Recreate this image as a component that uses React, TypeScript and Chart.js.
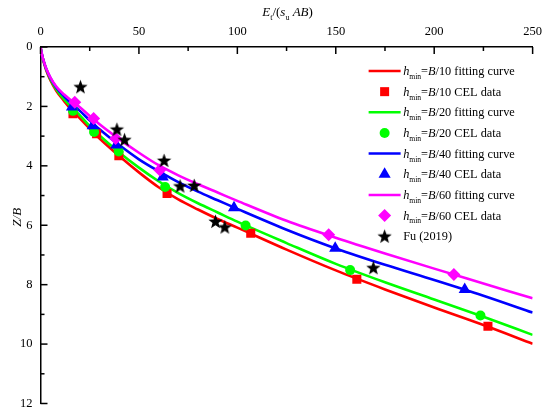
import React, { useEffect, useRef } from 'react';
import { Chart, registerables } from 'chart.js';

Chart.register(...registerables);

// ---------- data ----------
const X_MIN = 0;
const X_MAX = 250;
const X_MAJOR = 50;
const X_MINOR = 25;
const Y_MIN = 0;
const Y_MAX = 12;
const Y_MAJOR = 2;
const Y_MINOR = 1;

const CURVE_X = [0, 0.5, 1, 2, 3, 5, 8, 12, 16, 20, 25, 30, 40, 50, 60, 70, 80, 90, 100, 125, 150, 175, 200, 225, 250];
const CURVE_B10 = [0, 0.19, 0.35, 0.59, 0.8, 1.12, 1.47, 1.82, 2.13, 2.4, 2.75, 3.08, 3.67, 4.22, 4.72, 5.13, 5.47, 5.79, 6.08, 6.82, 7.52, 8.16, 8.77, 9.36, 9.99];
const CURVE_B20 = [0, 0.18, 0.34, 0.57, 0.77, 1.08, 1.42, 1.76, 2.04, 2.3, 2.66, 2.98, 3.55, 4.06, 4.52, 4.92, 5.26, 5.57, 5.88, 6.6, 7.3, 7.92, 8.5, 9.08, 9.69];
const CURVE_B40 = [0, 0.18, 0.33, 0.56, 0.75, 1.04, 1.36, 1.66, 1.92, 2.15, 2.47, 2.77, 3.3, 3.78, 4.18, 4.55, 4.87, 5.16, 5.45, 6.15, 6.78, 7.33, 7.84, 8.37, 8.94];
const CURVE_B60 = [0, 0.17, 0.33, 0.55, 0.74, 1.02, 1.33, 1.6, 1.82, 2.03, 2.32, 2.6, 3.1, 3.56, 3.98, 4.32, 4.62, 4.9, 5.18, 5.85, 6.42, 6.95, 7.46, 7.96, 8.46];

const CEL_B10_X = [16.5, 28.5, 39.8, 64.3, 106.8, 160.7, 227.3];
const CEL_B10_Y = [2.25, 2.92, 3.66, 4.93, 6.27, 7.82, 9.4];
const CEL_B20_X = [16.5, 27.2, 39.7, 63.3, 104.2, 157.3, 223.5];
const CEL_B20_Y = [2.15, 2.86, 3.52, 4.71, 6.01, 7.51, 9.04];
const CEL_B40_X = [16.0, 26.5, 38.5, 62.1, 98.3, 149.7, 215.5];
const CEL_B40_Y = [2.02, 2.65, 3.3, 4.38, 5.41, 6.77, 8.16];
const CEL_B60_X = [17.4, 27.0, 38.2, 60.6, 146.4, 210.0];
const CEL_B60_Y = [1.86, 2.41, 3.08, 4.14, 6.32, 7.66];

const FU_X = [20.3, 38.8, 42.7, 62.8, 70.9, 78.1, 88.9, 93.6, 169.1];
const FU_Y = [1.34, 2.77, 3.12, 3.82, 4.68, 4.66, 5.87, 6.06, 7.43];

const RED = '#ff0000';
const GREEN = '#00ff00';
const BLUE = '#0000ff';
const MAGENTA = '#ff00ff';
const BLACK = '#000000';

const FONT = '"Liberation Serif", "Times New Roman", serif';

type Part = { t: string; i?: boolean; sub?: boolean };

const LEGEND: { kind: 'line' | 'rect' | 'circle' | 'triangle' | 'rectRot' | 'star'; color: string; parts: Part[] }[] = [
  { kind: 'line', color: RED, parts: [{ t: 'h', i: true }, { t: 'min', sub: true }, { t: '=' }, { t: 'B', i: true }, { t: '/10 fitting curve' }] },
  { kind: 'rect', color: RED, parts: [{ t: 'h', i: true }, { t: 'min', sub: true }, { t: '=' }, { t: 'B', i: true }, { t: '/10 CEL data' }] },
  { kind: 'line', color: GREEN, parts: [{ t: 'h', i: true }, { t: 'min', sub: true }, { t: '=' }, { t: 'B', i: true }, { t: '/20 fitting curve' }] },
  { kind: 'circle', color: GREEN, parts: [{ t: 'h', i: true }, { t: 'min', sub: true }, { t: '=' }, { t: 'B', i: true }, { t: '/20 CEL data' }] },
  { kind: 'line', color: BLUE, parts: [{ t: 'h', i: true }, { t: 'min', sub: true }, { t: '=' }, { t: 'B', i: true }, { t: '/40 fitting curve' }] },
  { kind: 'triangle', color: BLUE, parts: [{ t: 'h', i: true }, { t: 'min', sub: true }, { t: '=' }, { t: 'B', i: true }, { t: '/40 CEL data' }] },
  { kind: 'line', color: MAGENTA, parts: [{ t: 'h', i: true }, { t: 'min', sub: true }, { t: '=' }, { t: 'B', i: true }, { t: '/60 fitting curve' }] },
  { kind: 'rectRot', color: MAGENTA, parts: [{ t: 'h', i: true }, { t: 'min', sub: true }, { t: '=' }, { t: 'B', i: true }, { t: '/60 CEL data' }] },
  { kind: 'star', color: BLACK, parts: [{ t: 'Fu (2019)' }] },
];

const X_TITLE: Part[] = [{ t: 'E', i: true }, { t: 't', sub: true }, { t: '/(' }, { t: 's', i: true }, { t: 'u', sub: true }, { t: ' ' }, { t: 'AB', i: true }, { t: ')' }];
const Y_TITLE: Part[] = [{ t: 'Z/B', i: true }];

const pts = (xs: number[], ys: number[]) => xs.map((x, k) => ({ x, y: ys[k] }));

function makeStar(r: number): HTMLCanvasElement {
  const c = document.createElement('canvas');
  const s = Math.ceil(r * 2 + 2);
  c.width = s;
  c.height = s;
  const g = c.getContext('2d')!;
  const cx = s / 2, cy = s / 2 + 0.6;
  const inner = r * 0.42;
  g.beginPath();
  for (let k = 0; k < 10; k++) {
    const rr = k % 2 === 0 ? r : inner;
    const a = -Math.PI / 2 + (k * Math.PI) / 5;
    const px = cx + rr * Math.cos(a);
    const py = cy + rr * Math.sin(a);
    if (k === 0) g.moveTo(px, py);
    else g.lineTo(px, py);
  }
  g.closePath();
  g.fillStyle = BLACK;
  g.fill();
  return c;
}

function richWidth(ctx: CanvasRenderingContext2D, parts: Part[], size: number) {
  let w = 0;
  for (const p of parts) {
    const fs = p.sub ? size * 0.62 : size;
    ctx.font = `${p.i ? 'italic ' : ''}${fs}px ${FONT}`;
    w += ctx.measureText(p.t).width;
  }
  return w;
}

function drawRich(ctx: CanvasRenderingContext2D, x: number, y: number, parts: Part[], size: number) {
  let cx = x;
  ctx.textBaseline = 'alphabetic';
  ctx.textAlign = 'left';
  for (const p of parts) {
    const fs = p.sub ? size * 0.62 : size;
    ctx.font = `${p.i ? 'italic ' : ''}${fs}px ${FONT}`;
    ctx.fillText(p.t, cx, y + (p.sub ? size * 0.32 : 0));
    cx += ctx.measureText(p.t).width;
  }
  return cx;
}

function drawMarker(ctx: CanvasRenderingContext2D, kind: string, color: string, x: number, y: number, star: HTMLCanvasElement) {
  ctx.save();
  ctx.fillStyle = color;
  ctx.strokeStyle = color;
  ctx.beginPath();
  if (kind === 'line') {
    ctx.lineWidth = 2.5;
    ctx.moveTo(x - 16, y);
    ctx.lineTo(x + 16, y);
    ctx.stroke();
  } else if (kind === 'rect') {
    ctx.rect(x - 4.5, y - 4.5, 9, 9);
    ctx.fill();
  } else if (kind === 'circle') {
    ctx.arc(x, y, 5, 0, Math.PI * 2);
    ctx.fill();
  } else if (kind === 'triangle') {
    const r = 7;
    ctx.moveTo(x, y - r);
    ctx.lineTo(x + r * 0.866, y + r * 0.5);
    ctx.lineTo(x - r * 0.866, y + r * 0.5);
    ctx.closePath();
    ctx.fill();
  } else if (kind === 'rectRot') {
    const r = 6.5;
    ctx.moveTo(x, y - r);
    ctx.lineTo(x + r, y);
    ctx.lineTo(x, y + r);
    ctx.lineTo(x - r, y);
    ctx.closePath();
    ctx.fill();
  } else if (kind === 'star') {
    ctx.drawImage(star, x - star.width / 2, y - star.height / 2);
  }
  ctx.restore();
}

export default function App() {
  const ref = useRef<HTMLCanvasElement | null>(null);

  useEffect(() => {
    if (!ref.current) return;
    const star = makeStar(7.5);

    const decor = {
      id: 'decor',
      afterDraw(chart: any) {
        const ctx: CanvasRenderingContext2D = chart.ctx;
        const xs = chart.scales.x;
        const ys = chart.scales.y;
        const ca = chart.chartArea;
        const x0 = xs.getPixelForValue(X_MIN);
        const y0 = ys.getPixelForValue(Y_MIN);
        ctx.save();
        ctx.strokeStyle = BLACK;
        ctx.lineWidth = 1.5;
        // inward tick marks
        for (let v = X_MIN; v <= X_MAX; v += X_MINOR) {
          const px = xs.getPixelForValue(v);
          const len = v % X_MAJOR === 0 ? 7 : 4;
          ctx.beginPath();
          ctx.moveTo(px, y0);
          ctx.lineTo(px, y0 + len);
          ctx.stroke();
        }
        for (let v = Y_MIN; v <= Y_MAX; v += Y_MINOR) {
          const py = ys.getPixelForValue(v);
          const len = v % Y_MAJOR === 0 ? 7 : 4;
          ctx.beginPath();
          ctx.moveTo(x0, py);
          ctx.lineTo(x0 + len, py);
          ctx.stroke();
        }
        ctx.fillStyle = BLACK;
        // x title
        const tsize = 13;
        const tw = richWidth(ctx, X_TITLE, tsize);
        drawRich(ctx, (ca.left + ca.right) / 2 - tw / 2 + 1, 16, X_TITLE, tsize);
        // y title
        ctx.save();
        ctx.translate(21, (ca.top + ca.bottom) / 2 - 8);
        ctx.rotate(-Math.PI / 2);
        const yw = richWidth(ctx, Y_TITLE, tsize);
        drawRich(ctx, -yw / 2, 0, Y_TITLE, tsize);
        ctx.restore();
        // legend
        const lsize = 12.3;
        const lx = ca.right - 148;
        let ly = ca.top + 24;
        for (const item of LEGEND) {
          drawMarker(ctx, item.kind, item.color, lx, ly, star);
          ctx.fillStyle = BLACK;
          drawRich(ctx, lx + 18.5, ly + 4, item.parts, lsize);
          ly += 20.65;
        }
        ctx.restore();
      },
    };

    const lineDs = (label: string, ys: number[], color: string, order: number) => ({
      type: 'line' as const,
      label,
      data: pts(CURVE_X, ys),
      borderColor: color,
      backgroundColor: color,
      borderWidth: 2.6,
      pointRadius: 0,
      cubicInterpolationMode: 'monotone' as const,
      fill: false,
      order,
    });
    const scatterDs = (label: string, xs: number[], ys: number[], color: string, style: any, radius: number, order: number) => ({
      type: 'scatter' as const,
      label,
      data: pts(xs, ys),
      backgroundColor: color,
      borderColor: color,
      borderWidth: 0,
      pointStyle: style,
      pointRadius: radius,
      order,
    });

    const chart = new Chart(ref.current, {
      type: 'scatter',
      data: {
        datasets: [
          scatterDs('Fu (2019)', FU_X, FU_Y, BLACK, star, 7.5, 0),
          scatterDs('B/60 CEL', CEL_B60_X, CEL_B60_Y, MAGENTA, 'rectRot', 6.5, 1),
          scatterDs('B/40 CEL', CEL_B40_X, CEL_B40_Y, BLUE, 'triangle', 7, 2),
          scatterDs('B/20 CEL', CEL_B20_X, CEL_B20_Y, GREEN, 'circle', 5, 3),
          scatterDs('B/10 CEL', CEL_B10_X, CEL_B10_Y, RED, 'rect', 6.4, 4),
          lineDs('B/60 fit', CURVE_B60, MAGENTA, 5),
          lineDs('B/40 fit', CURVE_B40, BLUE, 6),
          lineDs('B/20 fit', CURVE_B20, GREEN, 7),
          lineDs('B/10 fit', CURVE_B10, RED, 8),
        ] as any,
      },
      options: {
        animation: false,
        responsive: true,
        maintainAspectRatio: false,
        layout: { padding: { left: 0, top: 0, right: 15, bottom: 12 } },
        plugins: { legend: { display: false }, tooltip: { enabled: false } },
        scales: {
          x: {
            type: 'linear',
            position: 'top',
            min: X_MIN,
            max: X_MAX,
            grid: { display: false, drawTicks: false },
            border: { display: true, color: BLACK, width: 1.5 },
            ticks: { stepSize: X_MAJOR, color: BLACK, font: { family: FONT, size: 12.5 }, padding: 8, maxRotation: 0 },
            afterFit: (s: any) => { s.height = 47; },
          },
          y: {
            type: 'linear',
            position: 'left',
            min: Y_MIN,
            max: Y_MAX,
            reverse: true,
            grid: { display: false, drawTicks: false },
            border: { display: true, color: BLACK, width: 1.5 },
            ticks: { stepSize: Y_MAJOR, color: BLACK, font: { family: FONT, size: 12.5 }, padding: 8 },
            afterFit: (s: any) => { s.width = 40.5; },
          },
        },
      } as any,
      plugins: [decor],
    });
    return () => chart.destroy();
  }, []);

  return (
    <div style={{ position: 'fixed', left: 0, top: 0, width: 550, height: 419, background: '#fff' }}>
      <canvas ref={ref} />
    </div>
  );
}
